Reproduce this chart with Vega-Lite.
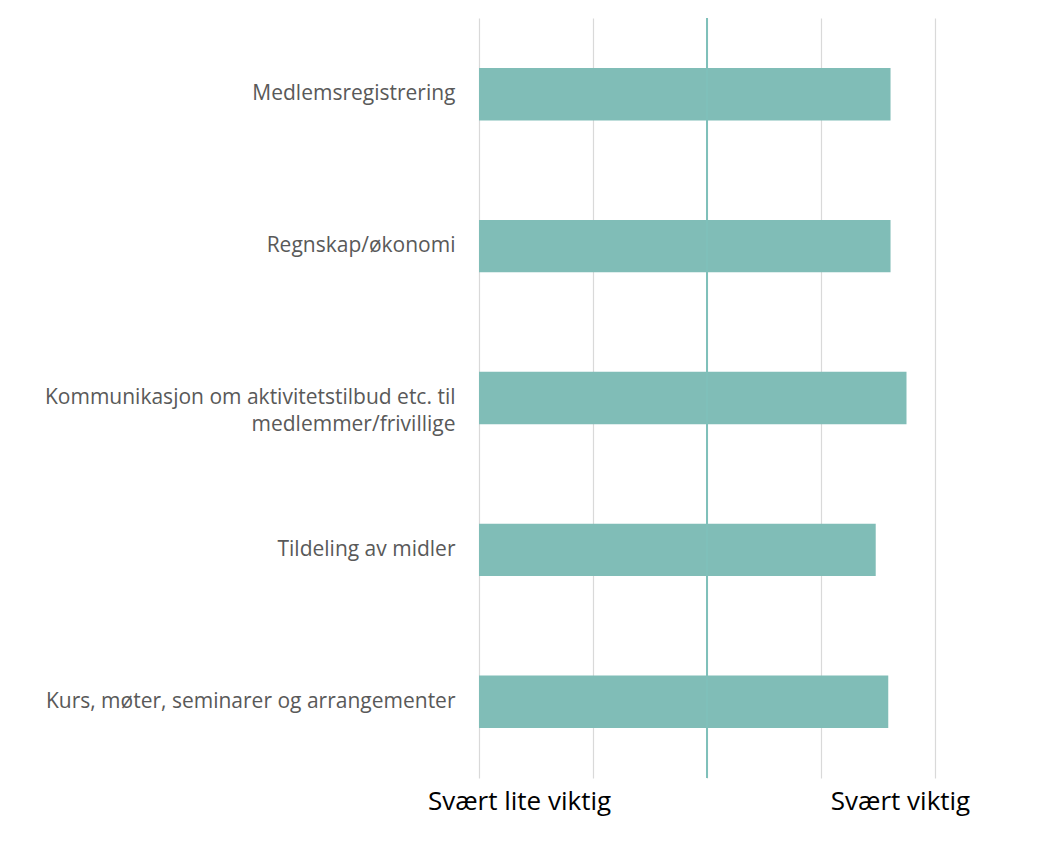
{
  "$schema": "https://vega.github.io/schema/vega-lite/v6.json",
  "width": 456,
  "height": 760,
  "autosize": {"type": "none"},
  "padding": {"left": 479, "top": 18, "right": 126, "bottom": 66},
  "background": "white",
  "config": {"view": {"stroke": null}},
  "data": {
    "values": [
      {"omrade": "Medlemsregistrering", "verdi": 4.61},
      {"omrade": "Regnskap/økonomi", "verdi": 4.61},
      {"omrade": "Kommunikasjon om aktivitetstilbud etc. til medlemmer/frivillige", "verdi": 4.75},
      {"omrade": "Tildeling av midler", "verdi": 4.48},
      {"omrade": "Kurs, møter, seminarer og arrangementer", "verdi": 4.59}
    ]
  },
  "layer": [
    {
      "mark": {"type": "bar", "color": "#80bdb7"},
      "encoding": {
        "y": {
          "field": "omrade",
          "type": "nominal",
          "sort": null,
          "scale": {"paddingInner": 0.655, "paddingOuter": 0.33},
          "axis": {
            "title": null,
            "domain": false,
            "ticks": false,
            "labelPadding": 24,
            "labelFont": "Open Sans",
            "labelFontSize": 21,
            "labelColor": "#595959",
            "labelLimit": 500,
            "labelLineHeight": 27,
            "labelExpr": "datum.value == 'Kommunikasjon om aktivitetstilbud etc. til medlemmer/frivillige' ? ['Kommunikasjon om aktivitetstilbud etc. til', 'medlemmer/frivillige'] : datum.value"
          }
        },
        "x": {
          "field": "verdi",
          "type": "quantitative",
          "scale": {"domain": [1, 5], "zero": false, "nice": false},
          "axis": {
            "title": null,
            "values": [1, 2, 3, 4, 5],
            "domain": false,
            "ticks": false,
            "grid": true,
            "gridColor": "#d9d9d9",
            "gridWidth": 1.2,
            "labelFlush": false,
            "labelLimit": 400,
            "labelOverlap": false,
            "labelExpr": "datum.value == 1 ? 'Svært lite viktig' : (datum.value == 5 ? 'Svært viktig' : '')",
            "labelFont": "Open Sans",
            "labelFontSize": 26,
            "labelColor": "#000000",
            "labelPadding": 10,
            "labelOffset": {"condition": {"test": "datum.value == 1", "value": 40}, "value": -35}
          }
        },
        "x2": {"datum": 1}
      }
    },
    {
      "mark": {"type": "rule", "color": "#7fc0ba", "strokeWidth": 2},
      "encoding": {"x": {"datum": 3}}
    }
  ]
}
